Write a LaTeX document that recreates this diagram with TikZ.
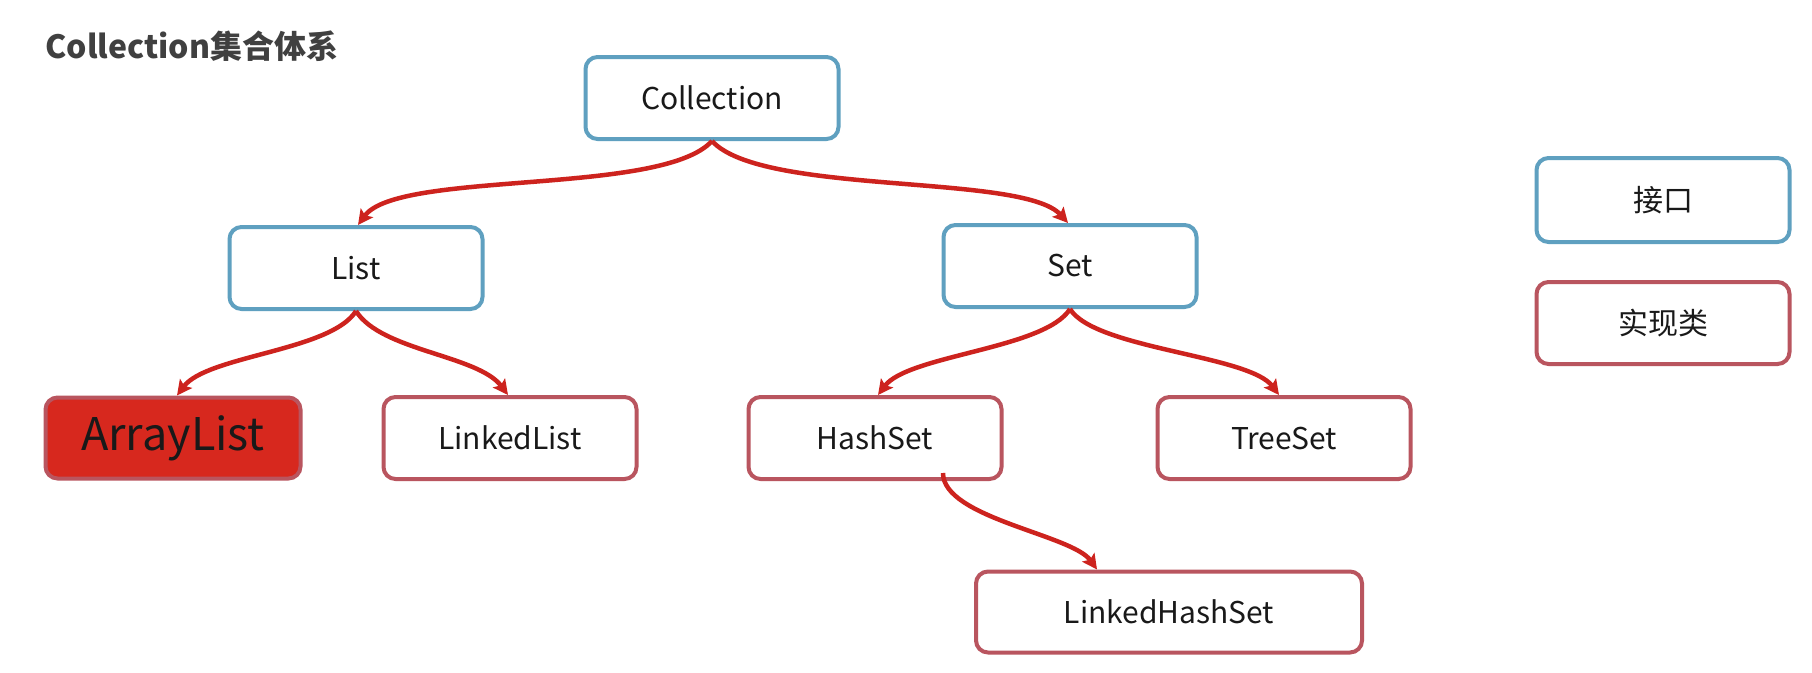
\documentclass[tikz,border=0pt]{standalone}
\usepackage{fontspec}
\setmainfont{Noto Sans CJK SC}
\usetikzlibrary{arrows.meta}
\definecolor{ifaceblue}{RGB}{95,160,192}
\definecolor{implred}{RGB}{185,85,95}
\definecolor{alfill}{RGB}{215,40,30}
\definecolor{arrowred}{RGB}{205,35,30}
\definecolor{txt}{RGB}{25,25,25}
\definecolor{titlegray}{RGB}{64,64,64}
\begin{document}
\begin{tikzpicture}[x=1pt,y=-1pt,
  box/.style={rounded corners=12pt, line width=4pt, minimum width=253pt, minimum height=82pt,
    inner sep=0pt, text=txt, font=\fontsize{30}{36}\selectfont, fill=white},
  iface/.style={box, draw=ifaceblue},
  impl/.style={box, draw=implred},
  arr/.style={draw=arrowred, line width=4.5pt, -{Stealth[length=15pt,width=15pt,inset=3pt]}}
]
\useasboundingbox[fill=white] (0,0) rectangle (1812,672);

\node[anchor=west, text=titlegray, font=\fontsize{32}{38}\selectfont\bfseries] (title) at (42,46) {Collection集合体系};

\node[iface] (coll) at (712,98) {Collection};
\node[iface] (list) at (356,268) {List};
\node[iface] (set) at (1070,266) {Set};
\node[impl, fill=alfill, minimum width=255pt, minimum height=81pt, font=\fontsize{45}{50}\selectfont] (al) at (173,438) {ArrayList};
\node[impl] (ll) at (510,438) {LinkedList};
\node[impl] (hs) at (875,438) {HashSet};
\node[impl] (ts) at (1284,438) {TreeSet};
\node[impl, minimum width=386pt, minimum height=81pt] (lhs) at (1169,612) {LinkedHashSet};
\node[iface, minimum height=84pt] (leg1) at (1663,200) {接口};
\node[impl] (leg2) at (1663,323) {实现类};

\draw[arr] (coll.south) .. controls +(-50,55) and +(40,-55) .. ([xshift=2pt]list.north);
\draw[arr] (coll.south) .. controls +(50,55) and +(-45,-50) .. ([xshift=-2pt]set.north);
\draw[arr] (list.south) .. controls +(-25,40) and +(30,-40) .. ([xshift=4pt]al.north);
\draw[arr] (list.south) .. controls +(25,40) and +(-30,-40) .. ([xshift=-2pt]ll.north);
\draw[arr] (set.south) .. controls +(-25,40) and +(30,-40) .. ([xshift=3pt]hs.north);
\draw[arr] (set.south) .. controls +(25,40) and +(-30,-40) .. ([xshift=-5pt]ts.north);
\draw[arr] ([xshift=68pt,yshift=8pt]hs.south) .. controls +(0,45) and +(-25,-35) .. ([xshift=-72pt]lhs.north);
\end{tikzpicture}
\end{document}
